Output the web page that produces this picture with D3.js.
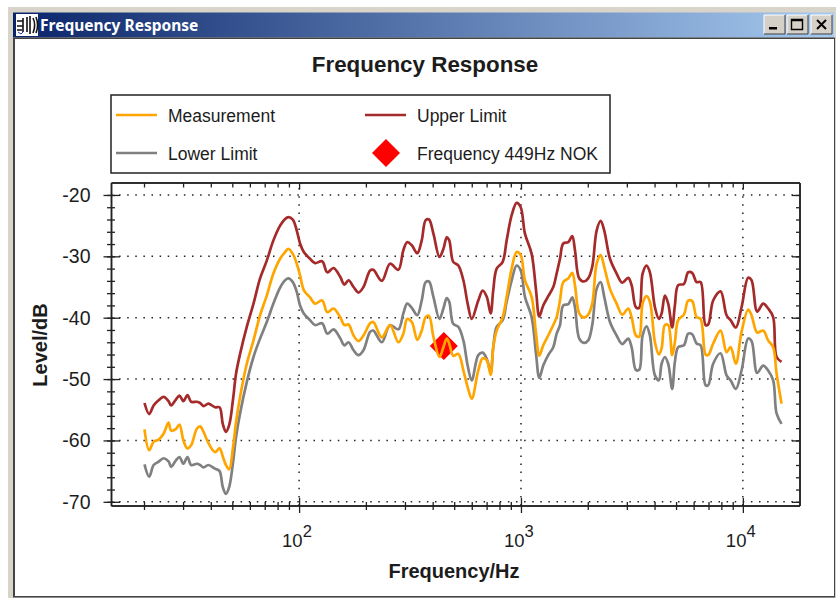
<!DOCTYPE html>
<html>
<head>
<meta charset="utf-8">
<title>Frequency Response</title>
<script src="https://cdn.jsdelivr.net/npm/d3@7"></script>
<style>
	html, body { margin: 0; padding: 0; background: #fff; overflow: hidden; }
	svg { display: block; }
	text { font-family: 'Liberation Sans', Arial, sans-serif; fill: #1c1c1c; }
</style>
</head>
<body>
<svg id="chart" width="837" height="598"></svg>
<script>
const frequency = [
	20.1, 21.1, 22.1, 23.2, 24.5, 25.8, 26.5, 27.9, 28.9, 30.1, 31.4, 32.6, 34.6, 35.8, 37.1, 39.0, 41.8, 43.8, 45.3, 46.8, 48.4,
	50.3, 52.0, 54.2, 58.1, 62.3, 66.7, 71.5, 76.6, 82.1, 86.5, 89.5, 93.7, 97.6, 101, 105, 112, 118, 127, 134, 143, 153,
	160, 167, 176, 185, 195, 209, 216, 236, 257, 280, 295, 307, 322, 341, 357, 372, 385, 403, 429, 447, 463, 475, 495, 522, 550, 575, 600,
	642, 672, 701, 730, 750, 777, 827, 862, 908, 956, 997, 1042, 1117, 1169, 1209, 1260, 1327, 1398, 1448,
	1499, 1551, 1634, 1702, 1751, 1831, 1922, 2009, 2095, 2193, 2286, 2373, 2518, 2698, 2860, 3043, 3152, 3296, 3411, 3533, 3682, 3811,
	4015, 4184, 4303, 4453, 4608, 4802, 4939, 5112, 5423, 5670, 5910, 6186, 6449, 6792, 6978, 7349, 7934, 8445, 8803, 9300, 9865,
	10565, 10944, 11600, 12345, 13000, 13695, 14190, 14936
];
const upperLimit = [
	-53.9, -55.7, -54.3, -53.5, -52.9, -53.6, -54.3, -53.3, -52.7, -53.6, -52.6, -53.7, -53.7, -53.9, -54.4, -54.0, -54.6, -54.6, -57.3, -58.6, -57.5,
	-53.5, -49.1, -45.9, -41.5, -37.7, -33.6, -30.7, -27.4, -25.0, -23.9, -23.6, -24.0, -25.8, -27.9, -29.3, -30.4, -31.1, -30.8, -32.6, -31.9, -33.3,
	-34.6, -33.9, -35.0, -35.9, -35.0, -32.3, -32.2, -34.0, -31.2, -32.2, -29.0, -27.7, -28.2, -29.5, -27.4, -24.1, -24.0, -26.3, -30.1, -28.8, -26.9, -27.4, -30.9, -31.5, -33.9, -37.7, -40.2,
	-37.2, -35.6, -36.6, -39.3, -35.5, -32.0, -30.9, -27.4, -23.3, -21.3, -22.0, -26.3, -29.6, -35.5, -39.8, -38.0, -36.5, -35.0, -32.8,
	-30.4, -27.9, -27.7, -26.7, -29.0, -33.6, -34.1, -33.6, -31.7, -25.8, -24.2, -25.8, -30.4, -32.8, -34.3, -33.5, -34.7, -38.3, -38.4, -32.8, -31.5, -32.6,
	-38.3, -40.2, -39.3, -36.4, -37.7, -41.6, -38.0, -34.7, -34.5, -32.6, -32.7, -34.2, -34.2, -41.2, -41.1, -37.2, -35.7, -39.6, -40.4, -41.6, -38.3,
	-33.5, -33.9, -39.0, -37.7, -38.5, -39.9, -46.4, -47.2
];
const measurement = [
	-58.2, -61.6, -60.2, -59.9, -58.9, -57.1, -58.4, -58.1, -57.4, -60.0, -61.3, -60.8, -58.1, -57.7, -58.6, -60.4, -61.9, -61.3, -62.6, -64.0, -64.7,
	-61.3, -57.0, -52.9, -47.5, -43.7, -39.6, -36.4, -32.8, -30.4, -29.3, -28.8, -29.6, -31.2, -33.1, -35.5, -36.7, -37.7, -37.2, -39.1, -38.5, -39.9,
	-41.2, -41.1, -42.9, -43.8, -42.9, -40.9, -40.7, -43.2, -41.2, -44.0, -42.6, -40.2, -40.7, -43.6, -42.1, -39.9, -39.7, -43.1, -46.4, -44.8, -43.4, -44.2, -46.2, -45.9, -48.6, -51.3, -53.2,
	-48.6, -46.6, -46.9, -49.3, -44.8, -42.1, -39.9, -36.6, -32.0, -29.3, -29.8, -33.9, -36.6, -42.6, -46.2, -44.5, -42.9, -41.2, -39.9,
	-37.2, -34.2, -33.6, -32.7, -34.7, -39.3, -40.0, -39.5, -37.7, -31.2, -29.8, -31.7, -35.3, -37.7, -39.5, -38.5, -39.9, -42.9, -43.1, -37.7, -36.5, -37.4,
	-44.0, -46.0, -45.0, -41.2, -41.2, -46.1, -44.0, -40.4, -39.5, -37.2, -37.3, -39.9, -40.2, -46.0, -46.1, -44.2, -42.1, -45.6, -44.8, -47.5, -42.3,
	-38.7, -39.6, -42.4, -42.1, -43.7, -44.8, -49.1, -54.0
];
const lowerLimit = [
	-63.9, -65.9, -64.0, -63.5, -62.9, -63.4, -64.3, -63.2, -62.7, -63.8, -62.7, -64.0, -63.8, -64.0, -64.4, -64.0, -64.6, -65.0, -67.6, -68.7, -67.6,
	-63.8, -59.4, -55.6, -50.5, -46.4, -43.4, -40.7, -37.7, -35.1, -33.9, -33.6, -34.2, -35.8, -38.0, -39.3, -40.4, -41.2, -40.9, -42.6, -41.9, -43.3,
	-44.5, -44.0, -45.3, -46.1, -45.3, -42.3, -42.1, -44.0, -41.2, -41.9, -39.3, -37.7, -38.4, -39.6, -37.2, -34.2, -34.1, -36.6, -40.2, -38.5, -36.8, -37.4, -41.0, -41.5, -43.7, -47.8, -50.2,
	-46.1, -45.7, -46.7, -48.8, -44.8, -41.5, -40.4, -37.4, -33.9, -31.5, -32.3, -36.6, -39.9, -45.9, -49.8, -47.8, -46.1, -44.8, -42.6,
	-41.2, -38.0, -37.8, -36.7, -38.3, -43.4, -44.1, -43.7, -41.2, -35.3, -34.2, -36.6, -40.7, -42.9, -44.3, -43.4, -44.8, -48.5, -48.5, -42.9, -41.4, -42.9,
	-49.4, -50.2, -47.5, -46.4, -47.5, -51.6, -47.2, -44.8, -44.5, -42.6, -42.7, -44.2, -44.5, -51.0, -51.0, -47.5, -45.8, -49.4, -50.2, -51.6, -48.6,
	-43.4, -43.8, -49.0, -47.8, -48.6, -50.2, -55.6, -57.3
];
const failFrequency = [449];
const failLevel = [-44.6];
const yTickValues = [-20, -30, -40, -50, -60, -70];
const yMinorValues = d3.range(-70, -18, 2);
const xTickValues = [100, 1000, 10000];
const xMinorValues = [20, 30, 40, 50, 60, 70, 80, 90, 200, 300, 400, 500, 600, 700, 800, 900, 2000, 3000, 4000, 5000, 6000, 7000, 8000, 9000];
const legendLabels = ['Measurement', 'Upper Limit', 'Lower Limit', 'Frequency 449Hz NOK'];

const ORANGE = '#ffa500';
const BROWN = '#a52a2a';
const GREY = '#808080';
const INK = '#222';

const plot = { left: 111, right: 799.5, top: 182.5, bottom: 505.5 };
const svg = d3.select('#chart');

/** WINDOW CHROME *************************************************************/
const defs = svg.append('defs');
const titleGradient = defs.append('linearGradient').attr('id', 'title-bar');
titleGradient.append('stop').attr('offset', 0).attr('stop-color', '#0a246a');
titleGradient.append('stop').attr('offset', 1).attr('stop-color', '#a6caf0');

svg.append('rect').attr('x', 8).attr('y', 7).attr('width', 828).attr('height', 591).attr('fill', '#d8d4ca');
svg.append('rect').attr('x', 13).attr('y', 12.5).attr('width', 821).attr('height', 25).attr('fill', 'url(#title-bar)');
svg.append('rect').attr('x', 13).attr('y', 37.5).attr('width', 822).attr('height', 560).attr('fill', '#444');
svg.append('rect').attr('x', 15).attr('y', 39).attr('width', 819).attr('height', 557).attr('fill', '#fff');

const icon = svg.append('g').attr('transform', 'translate(16, 14)');
icon.append('rect').attr('width', 22).attr('height', 22).attr('fill', '#fff');
icon.append('path')
	.attr('d', 'M1 7h6M1 12h6M1 16h5M7 4v14M11 3v15M14 2v18M17 4c2 4 2 10 0 15M20 3c2 5 2 11 0 16')
	.attr('fill', 'none').attr('stroke', '#111').attr('stroke-width', 1.6);
icon.append('path').attr('d', 'M2 18l3 2 3-3').attr('fill', 'none').attr('stroke', '#2a3fd0').attr('stroke-width', 1);

svg.append('text')
	.attr('x', 40).attr('y', 30.5)
	.style('font-family', "'Noto Sans', sans-serif")
	.style('font-weight', 700).style('font-size', '15.5px').style('fill', '#fff')
	.text('Frequency Response');

[[764, 'min'], [787, 'max'], [811, 'close']].forEach(([bx, kind]) => {
	const btn = svg.append('g').attr('transform', `translate(${bx}, 15)`);
	btn.append('rect').attr('width', 21).attr('height', 19).attr('fill', '#d4d0c8');
	btn.append('path').attr('d', 'M0 19V0H21').attr('fill', 'none').attr('stroke', '#fff');
	btn.append('path').attr('d', 'M21 0V19H0').attr('fill', 'none').attr('stroke', '#404040');
	if (kind === 'min') btn.append('rect').attr('x', 5).attr('y', 12).attr('width', 8).attr('height', 2.5).attr('fill', '#000');
	if (kind === 'max') btn.append('path').attr('d', 'M4.5 4.5h11v10h-11zM4.5 5.5h11').attr('fill', 'none').attr('stroke', '#000').attr('stroke-width', 1.4);
	if (kind === 'close') btn.append('path').attr('d', 'M6 5l9 9M15 5l-9 9').attr('stroke', '#000').attr('stroke-width', 2);
});

/** SCALES ********************************************************************/
const xScale = d3.scaleLog([14.2, 18000], [plot.left, plot.right]);
const yScale = d3.scaleLinear([-70.6, -17.97], [plot.bottom, plot.top]);

/** GRIDS *********************************************************************/
const gridG = svg.append('g');
gridG.selectAll('.grid-x')
	.data(xTickValues)
	.enter()
	.append('line')
	.attr('x1', (d) => xScale(d))
	.attr('x2', (d) => xScale(d))
	.attr('y1', plot.bottom)
	.attr('y2', plot.top)
	.attr('stroke', INK)
	.attr('stroke-width', 1.5)
	.attr('stroke-dasharray', '1.5 6.6');
gridG.selectAll('.grid-y')
	.data(yTickValues)
	.enter()
	.append('line')
	.attr('x1', plot.left)
	.attr('x2', plot.right)
	.attr('y1', (d) => yScale(d))
	.attr('y2', (d) => yScale(d))
	.attr('stroke', INK)
	.attr('stroke-width', 1.5)
	.attr('stroke-dasharray', '1.5 6.6');

/** AXES **********************************************************************/
// the left and bottom ticks cross the frame, the top and right ones only point inward
function styleAxis(g) {
	g.select('.domain').attr('stroke', INK).attr('stroke-width', 1.5);
	g.selectAll('line').attr('stroke', INK).attr('stroke-width', 1.3);
}

function drawYAxis(x, minorLen, majorLen, outer) {
	const minor = svg.append('g').attr('transform', `translate(${x}, 0)`)
		.call(d3.axisLeft(yScale).tickValues(yMinorValues).tickSize(minorLen).tickSizeOuter(0).tickFormat(''));
	const major = svg.append('g').attr('transform', `translate(${x}, 0)`)
		.call(d3.axisLeft(yScale).tickValues(yTickValues).tickSize(majorLen).tickSizeOuter(0).tickFormat(''));
	minor.selectAll('.tick line').attr('x2', outer ? -minorLen / 2 : -minorLen).attr('x1', outer ? minorLen / 2 : 0);
	major.selectAll('.tick line').attr('x2', outer ? -7.5 : -majorLen).attr('x1', outer ? 9 : 0);
	styleAxis(minor);
	styleAxis(major);
}

function drawXAxis(y, axisFn, minorTicks, majorTicks) {
	const minor = svg.append('g').attr('transform', `translate(0, ${y})`)
		.call(axisFn(xScale).tickValues(xMinorValues).tickSizeOuter(0).tickFormat(''));
	const major = svg.append('g').attr('transform', `translate(0, ${y})`)
		.call(axisFn(xScale).tickValues(xTickValues).tickSizeOuter(0).tickFormat(''));
	minor.selectAll('.tick line').attr('y1', minorTicks[0]).attr('y2', minorTicks[1]);
	major.selectAll('.tick line').attr('y1', majorTicks[0]).attr('y2', majorTicks[1]);
	styleAxis(minor);
	styleAxis(major);
}

drawYAxis(plot.left, 8, 16, true);
drawYAxis(plot.right, 3.5, 7.5, false);
drawXAxis(plot.bottom, d3.axisBottom, [-3.5, 4.5], [-7.5, 7.5]);
drawXAxis(plot.top, d3.axisTop, [0, 5], [0, 7]);

svg.selectAll('.y-label')
	.data(yTickValues)
	.enter()
	.append('text')
	.attr('x', 90.5)
	.attr('y', (d) => yScale(d) + 7)
	.attr('text-anchor', 'end')
	.style('font-size', '19.5px')
	.text((d) => d);

xTickValues.forEach((d) => {
	const label = svg.append('text')
		.attr('x', xScale(d) - 17)
		.attr('y', 547)
		.style('font-size', '18.5px');
	label.append('tspan').text('10');
	label.append('tspan').attr('dy', -10.5).style('font-size', '16.5px').text(Math.log10(d));
});

svg.append('text')
	.attr('x', 454).attr('y', 578)
	.attr('text-anchor', 'middle')
	.style('font-weight', 700).style('font-size', '20px')
	.text('Frequency/Hz');

svg.append('text')
	.attr('transform', 'translate(47, 345) rotate(-90)')
	.attr('text-anchor', 'middle')
	.style('font-weight', 700).style('font-size', '20px')
	.text('Level/dB');

svg.append('text')
	.attr('x', 425).attr('y', 72)
	.attr('text-anchor', 'middle')
	.style('font-weight', 700).style('font-size', '22.4px')
	.text('Frequency Response');

/** DATA **********************************************************************/
const diamond = d3.symbol(d3.symbolSquare, 2 * 14 * 14);

svg.selectAll('.fail')
	.data(failFrequency)
	.enter()
	.append('path')
	.attr('d', diamond)
	.attr('transform', (d, i) => `translate(${xScale(d)}, ${yScale(failLevel[i])}) rotate(45)`)
	.attr('fill', '#ff0000');

const lineGen = d3.line()
	.x((d, i) => xScale(frequency[i]))
	.y((d) => yScale(d))
	.curve(d3.curveCatmullRom.alpha(0.5));

[[lowerLimit, GREY], [upperLimit, BROWN], [measurement, ORANGE]].forEach(([values, color]) => {
	svg.append('path')
		.attr('d', lineGen(values))
		.attr('fill', 'none')
		.attr('stroke', color)
		.attr('stroke-width', 2.7)
		.attr('stroke-linejoin', 'round');
});

/** LEGEND ********************************************************************/
svg.append('rect')
	.attr('x', 111).attr('y', 95)
	.attr('width', 499).attr('height', 78)
	.attr('fill', '#fff').attr('stroke', INK).attr('stroke-width', 1.5);

const legendX = d3.scalePoint([0, 1], [116, 365]);
const legendY = d3.scalePoint([0, 1], [115, 153]);
const legendColors = [ORANGE, BROWN, GREY, null];

legendLabels.forEach((label, i) => {
	const col = i % 2;
	const row = Math.floor(i / 2);
	const lx = legendX(col);
	const ly = legendY(row);
	if (legendColors[i]) {
		svg.append('line')
			.attr('x1', lx).attr('x2', lx + 41)
			.attr('y1', ly).attr('y2', ly)
			.attr('stroke', legendColors[i]).attr('stroke-width', 2.7);
	} else {
		svg.append('path')
			.attr('d', diamond)
			.attr('transform', `translate(${lx + 21}, ${ly}) rotate(45)`)
			.attr('fill', '#ff0000');
	}
	svg.append('text')
		.attr('x', lx + 52).attr('y', ly + 6.5)
		.style('font-size', '17.5px')
		.text(label);
});
</script>
</body>
</html>
